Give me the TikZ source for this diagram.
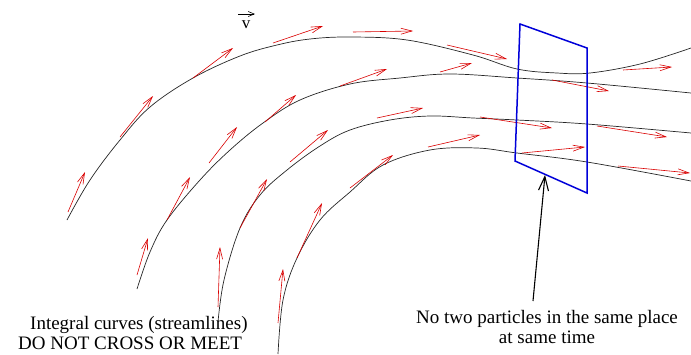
\documentclass[tikz,border=0pt]{standalone}
\usepackage{fontspec}
\setmainfont{Liberation Serif}
\usetikzlibrary{arrows.meta}
\begin{document}
\begin{tikzpicture}[x=1pt,y=-1pt,
  stream/.style={black!85,line width=0.7pt},
  vel/.style={red!85!black,line width=0.6pt,-{Straight Barb[length=11pt,width=6pt]}},
  lbl/.style={font=\fontsize{19}{20}\selectfont,inner sep=0pt,align=center}]
\useasboundingbox (0,0) rectangle (691,354);
% streamlines
\draw[stream] plot[smooth,tension=0.6] coordinates {(67,220) (90,180) (120,140) (150,107) (193,78) (240,56) (277,45) (310,39) (350,37) (407,40) (473,55) (517,69) (557,73) (590,73) (640,64) (691,48)};
\draw[stream] plot[smooth,tension=0.6] coordinates {(137,289) (150,252) (167,220) (200,180) (230,150) (263,123) (300,100) (350,84) (400,78) (450,74) (517,78) (587,83) (691,93)};
\draw[stream] plot[smooth,tension=0.6] coordinates {(218,322) (224,280) (240,228) (260,195) (287,170) (320,146) (350,130) (390,120) (430,116) (473,118) (517,120) (587,124) (691,133)};
\draw[stream] plot[smooth,tension=0.6] coordinates {(278,354) (283,300) (297,258) (320,220) (350,192) (383,165) (430,150) (477,148) (517,153) (587,162) (691,181)};
% velocity vectors
\foreach \a/\b/\c/\d in {68/212/85/172, 120/137/153/96, 193/78/233/48, 273/43/323/26, 353/32/413/31, 447/45/507/59, 623/70/672/67,
  137/275/148/238, 167/220/190/177, 209/163/237/127, 265/122/296/95, 340/86/387/69, 440/72/472/63, 552/80/609/91,
  218/307/220/247, 240/228/267/179, 290/162/328/130, 377/118/423/108, 480/117/552/128, 597/126/667/137,
  278/323/283/269, 297/258/322/203, 350/188/393/155, 428/147/480/135, 522/153/585/147, 618/166/690/173}
  \draw[vel] (\a,\b) -- (\c,\d);
% surface
\draw[blue!85!black,line width=1.5pt,line join=miter] (520,24) -- (587,48) -- (587,193) -- (515,161) -- cycle;
% labels
\node[inner sep=0pt,font=\fontsize{17}{17}\selectfont] (v) at (246,25) {v};
\coordinate (va) at (238,14);
\coordinate (vb) at (255,14);
\draw[black,line width=0.6pt,-{Straight Barb[length=6pt,width=5pt]}] (va) -- (vb);
\node[lbl] (note) at (547,327) {No two particles in the same place\\at same time};
\node[lbl,align=left,anchor=west] (curves) at (18,333) {\hspace*{12pt}Integral curves (streamlines)\\DO NOT CROSS OR MEET};
\coordinate (tail) at (533,301);
\coordinate (tip) at (545,175);
\draw[black,line width=1.1pt,-{Straight Barb[length=14pt,width=10pt]}] (tail) -- (tip);
\end{tikzpicture}
\end{document}
